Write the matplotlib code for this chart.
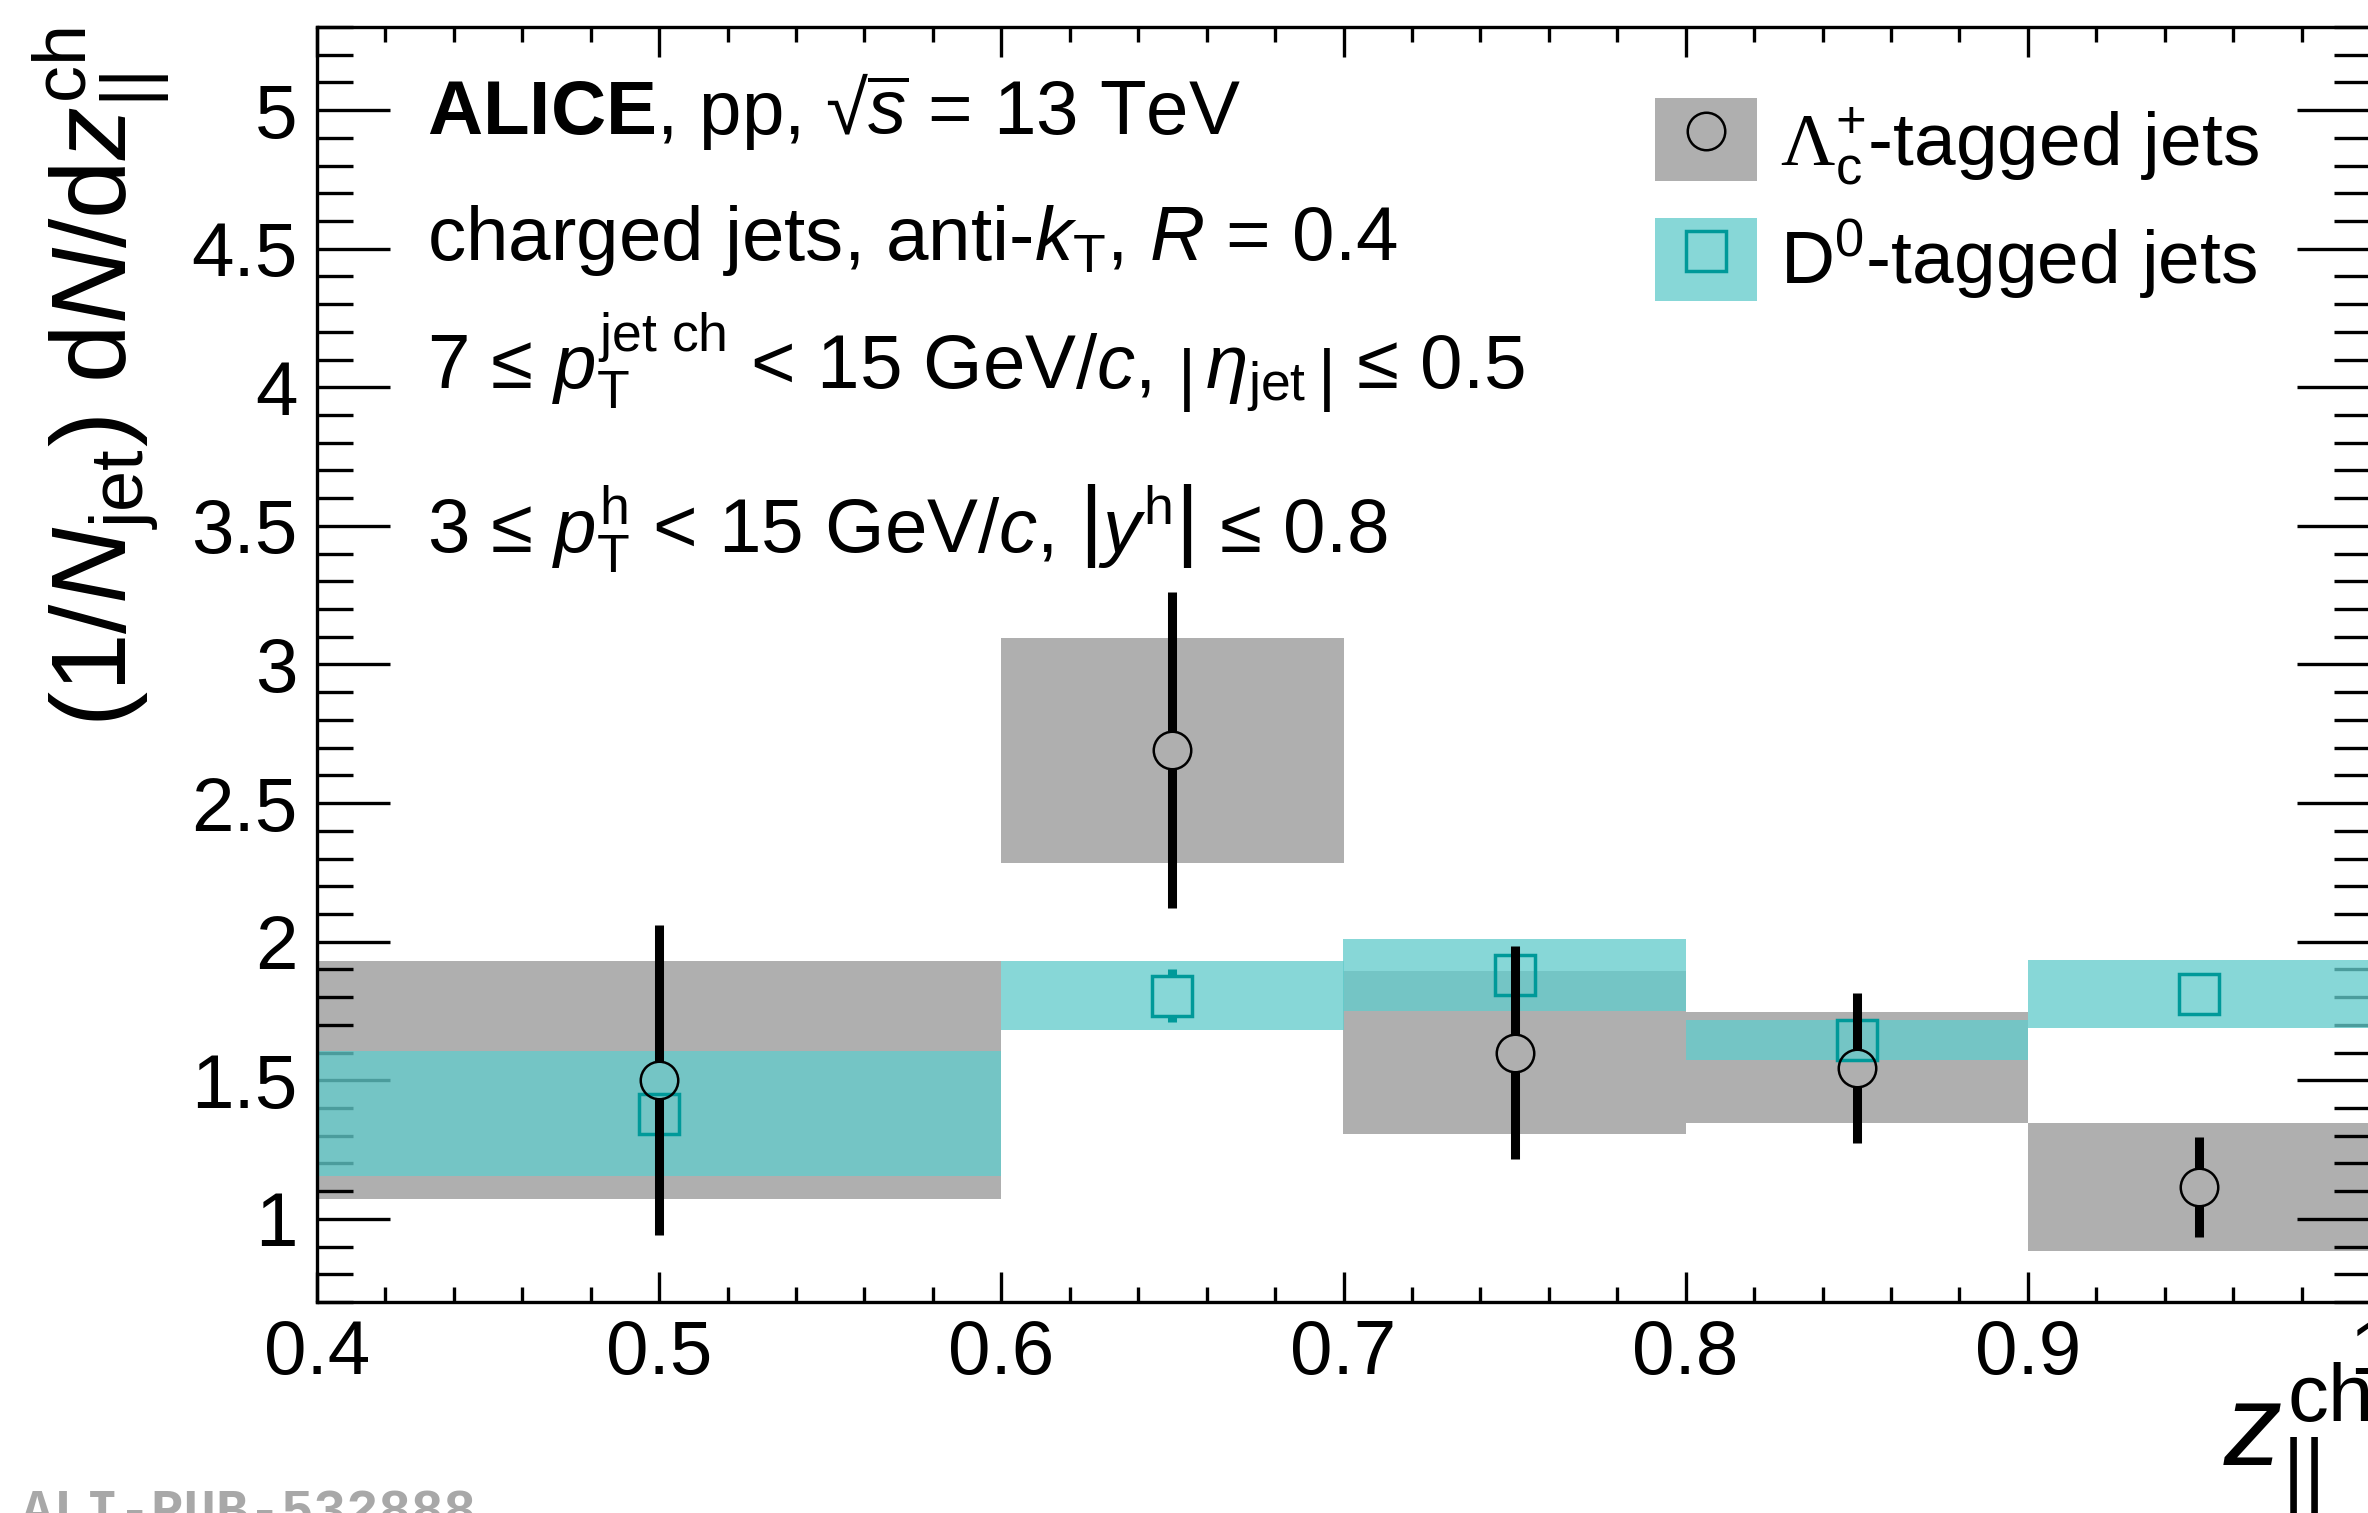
import matplotlib
matplotlib.use("Agg")
import matplotlib.pyplot as plt
from matplotlib.patches import Patch
from matplotlib.lines import Line2D
from matplotlib.ticker import MultipleLocator, FuncFormatter

plt.rcParams['font.family'] = ['Liberation Sans', 'DejaVu Sans']
plt.rcParams['mathtext.fontset'] = 'custom'
plt.rcParams['mathtext.rm'] = 'Liberation Sans'
plt.rcParams['mathtext.it'] = 'Liberation Sans:italic'
plt.rcParams['mathtext.bf'] = 'Liberation Sans:bold'
plt.rcParams['mathtext.sf'] = 'Liberation Serif'

# z_par bins
bin_lo = [0.4, 0.6, 0.7, 0.8, 0.9]
bin_hi = [0.6, 0.7, 0.8, 0.9, 1.0]
bin_mid = [0.5, 0.65, 0.75, 0.85, 0.95]

# Lambda_c+ tagged jets
lc_val = [1.50, 2.69, 1.60, 1.545, 1.115]
lc_stat = [0.56, 0.57, 0.385, 0.27, 0.18]
lc_sys = [0.43, 0.405, 0.295, 0.20, 0.23]

# D0 tagged jets
d0_val = [1.38, 1.805, 1.88, 1.645, 1.81]
d0_stat = [0.06, 0.095, 0.07, 0.07, 0.05]
d0_sys = [0.224, 0.125, 0.13, 0.072, 0.123]

gris = '#afafaf'
cyan_fill = (0.39, 0.80, 0.80)
cyan_alpha = 0.77
teal = '#009999'

fig = plt.figure(figsize=(23.68, 15.13), dpi=100)
W, H = 2368.0, 1513.0
ax = fig.add_axes([317 / W, 1 - 1302 / H, (2370 - 317) / W, (1302 - 27) / H])
ax.set_xlim(0.4, 1.0)
ax.set_ylim(0.7, 5.3)

larg = [h - l for l, h in zip(bin_lo, bin_hi)]

# systematic boxes
ax.bar(bin_mid, [2 * s for s in lc_sys], bottom=[v - s for v, s in zip(lc_val, lc_sys)],
       width=larg, color=gris, linewidth=0, zorder=1)
ax.bar(bin_mid, [2 * s for s in d0_sys], bottom=[v - s for v, s in zip(d0_val, d0_sys)],
       width=larg, color=cyan_fill, alpha=cyan_alpha, linewidth=0, zorder=2)

ms_o, mew_o = 27, 1.8
ms_s, mew_s = 29, 2.5

def meio_marcador(ms):
    # half marker size in data units (error bars stop at the marker edge)
    y0 = ax.transData.transform((0, 0))[1]
    y1 = ax.transData.transform((0, 1))[1]
    return ms / 72.0 * fig.dpi / 2.0 / (y1 - y0)

def barras(xs, ys, errs, gap, cor, lw, z):
    for x, y, e in zip(xs, ys, errs):
        if e <= gap:
            continue
        ax.vlines(x, y + gap, y + e, color=cor, lw=lw, zorder=z, capstyle='butt')
        ax.vlines(x, y - e, y - gap, color=cor, lw=lw, zorder=z, capstyle='butt')

barras(bin_mid, d0_val, d0_stat, meio_marcador(ms_s), teal, 6.5, 3)
ax.plot(bin_mid, d0_val, 's', ms=ms_s, mfc='none', mec=teal, mew=mew_s, zorder=3)
barras(bin_mid, lc_val, lc_stat, meio_marcador(ms_o), 'black', 6.5, 4)
ax.plot(bin_mid, lc_val, 'o', ms=ms_o, mfc='none', mec='black', mew=mew_o, zorder=4)

# axes style
for sp in ax.spines.values():
    sp.set_linewidth(2.4)
ax.xaxis.set_major_locator(MultipleLocator(0.1))
ax.xaxis.set_minor_locator(MultipleLocator(0.02))
ax.yaxis.set_major_locator(MultipleLocator(0.5))
ax.yaxis.set_minor_locator(MultipleLocator(0.1))
fmt = FuncFormatter(lambda v, p: '%g' % round(v, 3))
ax.xaxis.set_major_formatter(fmt)
ax.yaxis.set_major_formatter(fmt)
ax.tick_params(which='both', direction='in', top=True, right=True, width=2.4, labelsize=55)
ax.tick_params(axis='x', which='major', length=21.6, pad=12)
ax.tick_params(axis='x', which='minor', length=11)
ax.tick_params(axis='y', which='major', length=52.5, pad=14)
ax.tick_params(axis='y', which='minor', length=26)

# axis titles
fig.text(2370 / W, 1 - 1465 / H, r'$z_{||}^{\mathrm{ch}}$', fontsize=84,
         ha='right', va='baseline')
fig.text(127 / W, 1 - 27 / H,
         r'$(1/N_{\mathrm{jet}})\ \mathrm{d}N/\mathrm{d}z_{||}^{\mathrm{ch}}$',
         fontsize=76, rotation=90, rotation_mode='anchor', ha='right', va='baseline')

# info texts
fs = 55
fig.text(427 / W, 1 - 134 / H, r'$\mathbf{ALICE}$, pp, √$\overline{s}$ = 13 TeV', fontsize=fs)
fig.text(427 / W, 1 - 260 / H, r'charged jets, anti-$k_{\mathrm{T}}$, $R$ = 0.4', fontsize=fs)
fig.text(427 / W, 1 - 389 / H,
         r'7 ≤ $p_{\mathrm{T}}^{\mathrm{jet\ ch}}$ < 15 GeV/$c$, $\left|\,\eta_{\mathrm{jet}}\,\right|$ ≤ 0.5',
         fontsize=fs)
fig.text(427 / W, 1 - 552 / H,
         r'3 ≤ $p_{\mathrm{T}}^{\mathrm{h}}$ < 15 GeV/$c$, $\left|y^{\mathrm{h}}\right|$ ≤ 0.8',
         fontsize=fs)

# legend
h_lc = (Patch(facecolor=gris, linewidth=0),
        Line2D([], [], marker='o', ls='none', ms=ms_o, mfc='none', mec='black', mew=mew_o))
h_d0 = (Patch(facecolor=cyan_fill, alpha=cyan_alpha, linewidth=0),
        Line2D([], [], marker='s', ls='none', ms=ms_s, mfc='none', mec=teal, mew=mew_s))
leg = ax.legend([h_lc, h_d0],
                [r'$\mathsf{\Lambda}_{\mathrm{c}}^{+}$-tagged jets', r'D$^{0}$-tagged jets'],
                loc='upper left', bbox_to_anchor=((1655 - 317) / (2370 - 317), (1302 - 98) / 1275),
                frameon=False, fontsize=54, borderpad=0, borderaxespad=0,
                handlelength=1.36, handleheight=1.33, handletextpad=0.3, labelspacing=0.4)

# watermark
fig.text(21 / W, 1 - 1527 / H, 'ALI-PUB-532888', fontsize=39, family='Liberation Mono',
         weight='bold', color='#a8a8a8', va='baseline')

fig.savefig('out.png', dpi=100)
